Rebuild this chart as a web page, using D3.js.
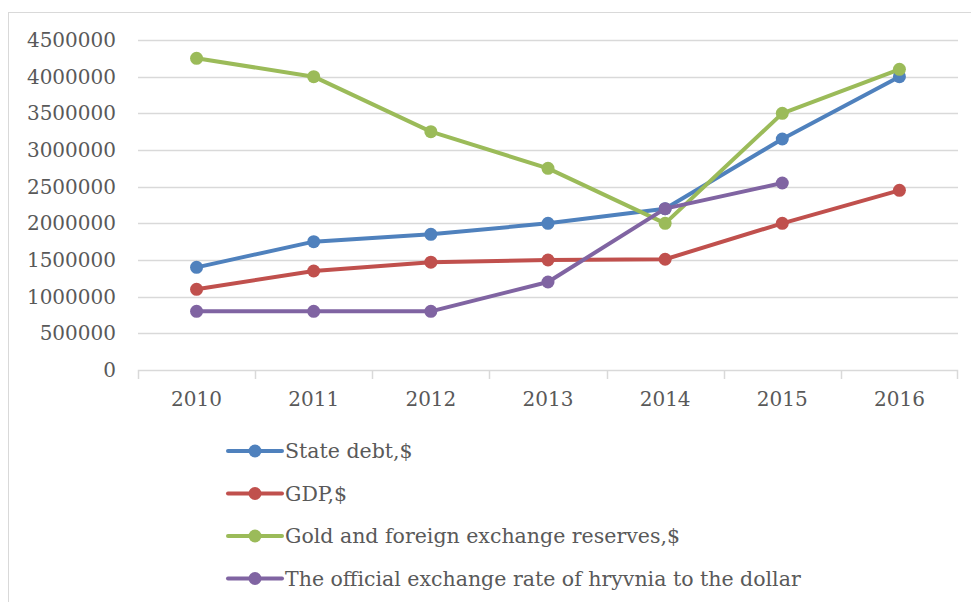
<!DOCTYPE html>
<html>
<head>
<meta charset="utf-8">
<script src="https://cdn.jsdelivr.net/npm/d3@7"></script>
<style>
  body { margin: 0; background: #fff; }
  text { font-family: "DejaVu Serif", serif; fill: #595959; }
</style>
</head>
<body>
<script>
var years = ['2010', '2011', '2012', '2013', '2014', '2015', '2016'];
var stateDebt = [1400000, 1750000, 1850000, 2000000, 2200000, 3150000, 4000000];
var gdp = [1100000, 1350000, 1470000, 1500000, 1510000, 2000000, 2450000];
var reserves = [4250000, 4000000, 3250000, 2750000, 2000000, 3500000, 4100000];
var hryvnia = [800000, 800000, 800000, 1200000, 2200000, 2550000, null];
var yTicks = [0, 500000, 1000000, 1500000, 2000000, 2500000, 3000000, 3500000, 4000000, 4500000];

var series = [
    { name: 'State debt,$', values: stateDebt, color: '#4F81BD' },
    { name: 'GDP,$', values: gdp, color: '#C0504D' },
    { name: 'Gold and foreign exchange reserves,$', values: reserves, color: '#9BBB59' },
    { name: 'The official exchange rate of hryvnia to the dollar', values: hryvnia, color: '#8064A2' }
];

var width = 971;
var height = 602;
var margin = { left: 138, right: 13, top: 40, bottom: 232 };
var plotW = width - margin.left - margin.right;
var plotH = height - margin.top - margin.bottom;
var font = "DejaVu Serif, serif";

var svg = d3.select("body").append("svg").attr("width", width).attr("height", height);

// outer chart border
svg.append("rect")
    .attr("x", 8.5).attr("y", 12.5)
    .attr("width", width).attr("height", height)
    .attr("fill", "none").attr("stroke", "#d9d9d9").attr("stroke-width", 1);

var x = d3.scaleBand().domain(years).range([0, plotW]);
var y = d3.scaleLinear().domain([0, 4500000]).range([plotH, 0]);

var g = svg.append("g").attr("transform", "translate(" + margin.left + "," + margin.top + ")");

// gridlines
g.append("g")
    .selectAll("line")
    .data(yTicks.slice(1))
    .enter().append("line")
    .attr("x1", 0).attr("x2", plotW)
    .attr("y1", function (d) { return Math.round(y(d)) + 0.5; })
    .attr("y2", function (d) { return Math.round(y(d)) + 0.5; })
    .attr("stroke", "#d9d9d9").attr("stroke-width", 1.5);

// y axis labels
var yAxis = d3.axisLeft(y).tickValues(yTicks).tickSize(0).tickPadding(22)
    .tickFormat(d3.format("d"));
var yg = g.append("g").call(yAxis);
yg.select(".domain").remove();
yg.selectAll("text").style("font-size", "20px").style("font-family", font).attr("fill", "#595959");

// x axis
var xAxis = d3.axisBottom(x).tickSize(0).tickPadding(22);
var xg = g.append("g").attr("transform", "translate(0," + plotH + ")").call(xAxis);
xg.select(".domain").attr("stroke", "#d9d9d9").attr("stroke-width", 1.5).attr("d", "M0.5,9V0.5H" + (plotW - 0.5) + "V9");
xg.selectAll("text").style("font-size", "20px").style("font-family", font).attr("fill", "#595959");
xg.selectAll(".sep")
    .data(years.slice(1))
    .enter().append("line")
    .attr("class", "sep")
    .attr("x1", function (d) { return Math.round(x(d)) + 0.5; })
    .attr("x2", function (d) { return Math.round(x(d)) + 0.5; })
    .attr("y1", 0).attr("y2", 9)
    .attr("stroke", "#d9d9d9").attr("stroke-width", 1.5);

var line = d3.line()
    .defined(function (d) { return d !== null; })
    .x(function (d, i) { return x(years[i]) + x.bandwidth() / 2; })
    .y(function (d) { return y(d); });

series.forEach(function (s) {
    g.append("path")
        .attr("d", line(s.values))
        .attr("fill", "none")
        .attr("stroke", s.color)
        .attr("stroke-width", 4)
        .attr("stroke-linejoin", "round");
});
series.forEach(function (s) {
    g.selectAll(null)
        .data(s.values.map(function (v, i) { return { v: v, i: i }; }).filter(function (d) { return d.v !== null; }))
        .enter().append("circle")
        .attr("cx", function (d) { return x(years[d.i]) + x.bandwidth() / 2; })
        .attr("cy", function (d) { return y(d.v); })
        .attr("r", 6.5)
        .attr("fill", s.color);
});

// legend
var legend = svg.append("g").attr("transform", "translate(228,451)");
var items = legend.selectAll("g").data(series).enter().append("g")
    .attr("transform", function (d, i) { return "translate(0," + (i * 42.5) + ")"; });
items.append("line")
    .attr("x1", 0).attr("x2", 54).attr("y1", 0).attr("y2", 0)
    .attr("stroke", function (d) { return d.color; })
    .attr("stroke-width", 4).attr("stroke-linecap", "round");
items.append("circle").attr("cx", 27).attr("cy", 0).attr("r", 6.5)
    .attr("fill", function (d) { return d.color; });
items.append("text")
    .attr("x", 57).attr("y", 0).attr("dy", "0.35em")
    .style("font-size", "20.5px")
    .text(function (d) { return d.name; });
</script>
</body>
</html>
